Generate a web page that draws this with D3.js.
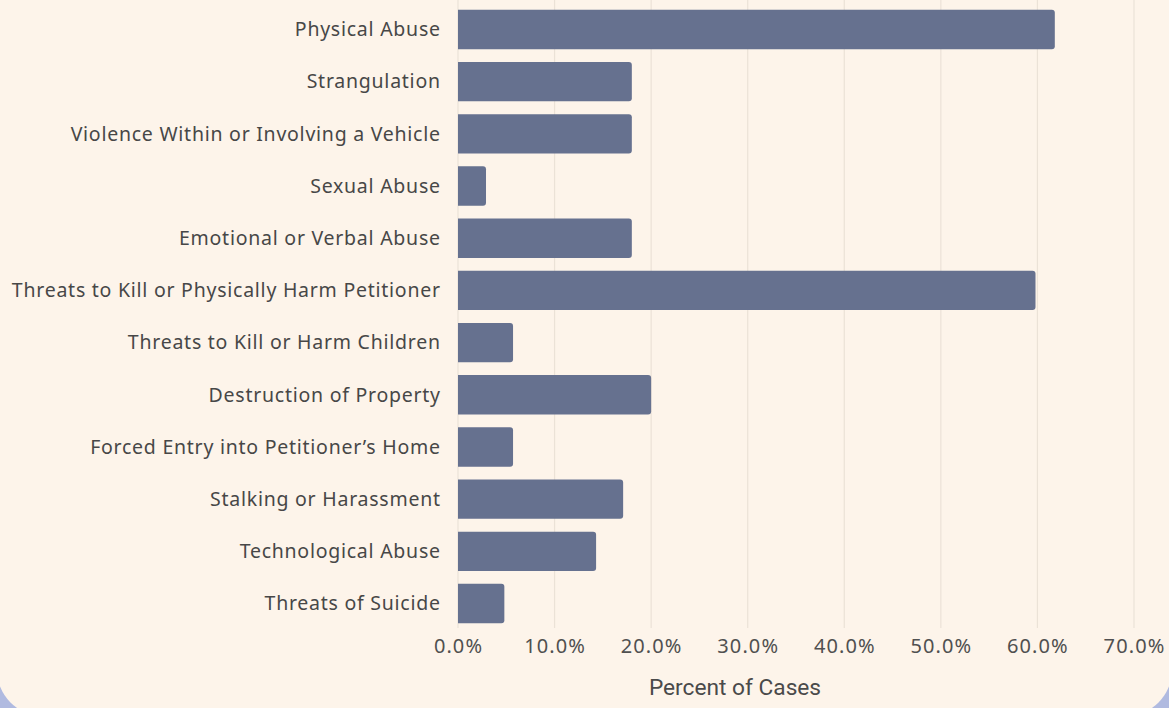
<!DOCTYPE html>
<html><head><meta charset="utf-8">
<script src="https://cdn.jsdelivr.net/npm/d3@7"></script>
<style>
html,body{margin:0;padding:0;background:#b0bae0;}
svg{display:block;}
</style></head>
<body>
<svg id="chart" width="1169" height="708"></svg>
<script>
const categories = [
  "Physical Abuse",
  "Strangulation",
  "Violence Within or Involving a Vehicle",
  "Sexual Abuse",
  "Emotional or Verbal Abuse",
  "Threats to Kill or Physically Harm Petitioner",
  "Threats to Kill or Harm Children",
  "Destruction of Property",
  "Forced Entry into Petitioner’s Home",
  "Stalking or Harassment",
  "Technological Abuse",
  "Threats of Suicide"
];
const values = [0.618, 0.18, 0.18, 0.029, 0.18, 0.598, 0.057, 0.20, 0.057, 0.171, 0.143, 0.048];
const tickValues = [0, 0.1, 0.2, 0.3, 0.4, 0.5, 0.6, 0.7];
const axisTitle = "Percent of Cases";

const svg = d3.select("#chart");
const W = 1169, H = 708;

// card background
svg.append("rect").attr("x", -3).attr("y", -80).attr("width", W + 6).attr("height", H + 80 + 8)
  .attr("rx", 46).attr("ry", 46).attr("fill", "#fdf4ea");

const x = d3.scaleLinear().domain([0, 0.7]).range([458, 1134]);
const y = d3.scaleBand().domain(categories).range([3, 630]).paddingInner(0.245).paddingOuter(0.13);

// gridlines
svg.append("g").selectAll("line").data(tickValues).join("line")
  .attr("x1", d => x(d)).attr("x2", d => x(d))
  .attr("y1", 0).attr("y2", 628)
  .attr("stroke", "#ebe2d7").attr("stroke-width", 1.2);

// bars
svg.append("g").selectAll("path").data(categories).join("path")
  .attr("d", (c, i) => {
    const x0 = x(0), x1 = x(values[i]), y0 = y(c), h = y.bandwidth(), r = 3;
    return `M${x0},${y0} H${x1 - r} Q${x1},${y0} ${x1},${y0 + r} V${y0 + h - r} Q${x1},${y0 + h} ${x1 - r},${y0 + h} H${x0} Z`;
  })
  .attr("fill", "#66718f");

// category labels
const labelFont = "'Noto Sans', Lato, sans-serif";
const ls = 0.75;
svg.append("g").selectAll("text").data(categories).join("text")
  .attr("x", 440 + ls)
  .attr("y", c => y(c) + y.bandwidth() / 2)
  .attr("dy", "0.35em").attr("text-anchor", "end")
  .attr("font-family", labelFont).attr("font-size", 19.5)
  .attr("letter-spacing", ls + "px")
  .attr("fill", "#474747").text(c => c);

// x axis tick labels
const xAxis = d3.axisBottom(x).tickValues(tickValues).tickFormat(d3.format(".1%")).tickSize(0).tickPadding(0);
const gx = svg.append("g").attr("transform", "translate(0,640)").call(xAxis);
gx.select(".domain").remove();
gx.selectAll("text").attr("font-family", labelFont).attr("font-size", 20)
  .attr("letter-spacing", "1.1px")
  .attr("fill", "#505050").attr("dy", "0.66em");

// axis title
svg.append("text").attr("x", 735).attr("y", 687).attr("dy", "0.35em")
  .attr("text-anchor", "middle").attr("font-family", "Roboto, sans-serif").attr("font-size", 22.7)
  .attr("fill", "#4a4a4a").text(axisTitle);
</script>
</body></html>
